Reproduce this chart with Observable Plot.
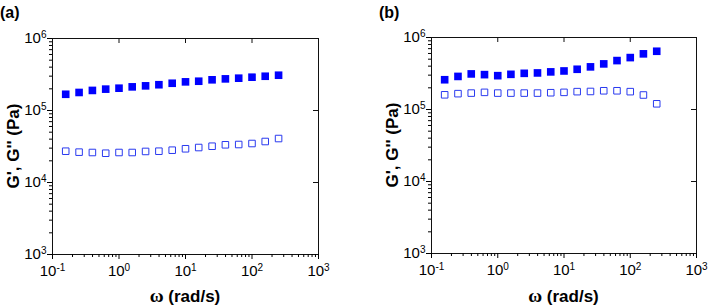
<!DOCTYPE html>
<html><head><meta charset="utf-8">
<script src="https://cdn.jsdelivr.net/npm/d3@7"></script>
<script src="https://cdn.jsdelivr.net/npm/@observablehq/plot@0.6"></script>
<style>
body{margin:0;background:#fff;}
#wrap{position:relative;width:708px;height:307px;overflow:hidden;font-family:"Liberation Sans",Arial,sans-serif;}
.panel{position:absolute;top:0;}
.tag{position:absolute;font:bold 16px "Liberation Sans",Arial,sans-serif;color:#000;}
</style></head><body>
<div id="wrap"></div>
<script>
// angular frequency (rad/s)
const omega = [0.158,0.251,0.398,0.631,1,1.58,2.51,3.98,6.31,10,15.8,25.1,39.8,63.1,100,158,251];
// panel (a)
const gPrimeA  = [168e3,178e3,190e3,198e3,204e3,213e3,220e3,228e3,239e3,250e3,255e3,267e3,275e3,281e3,290e3,299e3,309e3];
const gDoubleA = [27.2e3,26.4e3,26.1e3,25.5e3,26.1e3,26.1e3,27.0e3,27.2e3,28.1e3,29.4e3,30.6e3,31.9e3,33.4e3,33.7e3,34.8e3,37.1e3,40.8e3];
// panel (b)
const gPrimeB  = [259e3,288e3,312e3,305e3,295e3,308e3,318e3,322e3,333e3,343e3,362e3,391e3,430e3,478e3,526e3,593e3,644e3];
const gDoubleB = [160e3,166e3,169e3,173e3,169e3,169e3,169e3,169e3,171e3,173e3,177e3,178e3,182e3,182e3,177e3,159e3,120e3];
// axes
const xMajor = [0.1,1,10,100,1000];
const yMajor = [1e3,1e4,1e5,1e6];
const xDomain = [0.1,1000];
const yDomain = [1e3,1e6];
const panelLabels = ["(a)","(b)"];
const xLabelSym = "ω";
const xLabelRest = " (rad/s)";
const yLabel = "G', G'' (Pa)";

function minorOf(majors){
  const out=[];
  for(let i=0;i<majors.length-1;i++) for(let k=2;k<=9;k++) out.push(majors[i]*k);
  return out;
}
const xMinor = minorOf(xMajor), yMinor = minorOf(yMajor);

const fillBlue = "#0000ff", openBlue = "#2a3aef";

function panel(gp, gpp, m, left){
  const W=354, H=307;
  const iw = W-m.left-m.right, ih = H-m.top-m.bottom;
  const sup = d => Math.round(Math.log10(d));
  const chart = Plot.plot({
    width: W, height: H,
    marginLeft: m.left, marginRight: m.right, marginTop: m.top, marginBottom: m.bottom,
    style: {fontFamily: '"Liberation Sans", Arial, sans-serif', fontSize: "15px", color:"#000", background:"transparent"},
    x: {type:"log", domain: xDomain},
    y: {type:"log", domain: yDomain},
    marks: [
      Plot.frame({stroke:"#111", strokeWidth:1}),
      Plot.axisX({ticks: xMajor, tickSize: 5, tickPadding: 6, tickFormat: d => "10^" + sup(d), label: null, fontSize: 15}),
      Plot.axisX({ticks: xMinor, tickSize: 3, tickFormat: () => "", label: null}),
      Plot.axisY({ticks: yMajor, tickSize: 5, tickPadding: 1, tickFormat: d => "10^" + sup(d), label: null, fontSize: 15}),
      Plot.axisY({ticks: yMinor, tickSize: 3, tickFormat: () => "", label: null}),
      Plot.tickX(xMajor.slice(1,-1), {x: d=>d, insetBottom: ih-5, stroke:"#111"}),
      Plot.tickY(yMajor.slice(1,-1), {y: d=>d, insetLeft: iw-5, stroke:"#111"}),
      Plot.dot(omega, {x: d=>d, y: (d,i)=>gpp[i], symbol:"square", r:3.7, fill:"white", stroke: openBlue, strokeWidth:1}),
      Plot.dot(omega, {x: d=>d, y: (d,i)=>gp[i], symbol:"square", r:4.3, fill: fillBlue, stroke:"none"})
    ]
  });
  // superscript exponents in tick labels
  d3.select(chart).selectAll("text").each(function(){
    const t = this.textContent;
    if(/^10\^/.test(t)){
      const e = t.slice(3);
      const sel = d3.select(this); sel.text("");
      sel.append("tspan").text("10");
      sel.append("tspan").attr("dy","-0.55em").attr("font-size","10px").text(e);
    }
  });
  // axis titles
  const svg = d3.select(chart);
  const xt = svg.append("text").attr("x", m.left + iw/2).attr("y", H-5)
    .attr("text-anchor","middle").attr("font-weight","bold").attr("font-size","17px");
  xt.append("tspan").attr("font-family",'"Liberation Serif", serif').attr("font-size","19px").text(xLabelSym);
  xt.append("tspan").text(xLabelRest);
  svg.append("text").attr("transform", `translate(${m.left-33},${m.top+ih/2}) rotate(-90)`)
    .attr("text-anchor","middle").attr("font-weight","bold").attr("font-size","17px").text(yLabel);
  chart.classList.add("panel");
  chart.style.left = left + "px";
  return chart;
}

const wrap = document.getElementById("wrap");
wrap.appendChild(panel(gPrimeA, gDoubleA, {left:52, right:36, top:38, bottom:53}, 0));
wrap.appendChild(panel(gPrimeB, gDoubleB, {left:77, right:12, top:37, bottom:54}, 354));
[[0,4],[379,4]].forEach(([x,y],i)=>{
  const d=document.createElement("div"); d.className="tag"; d.style.left=x+"px"; d.style.top=y+"px";
  d.textContent=panelLabels[i]; wrap.appendChild(d);
});
</script>
</body></html>
